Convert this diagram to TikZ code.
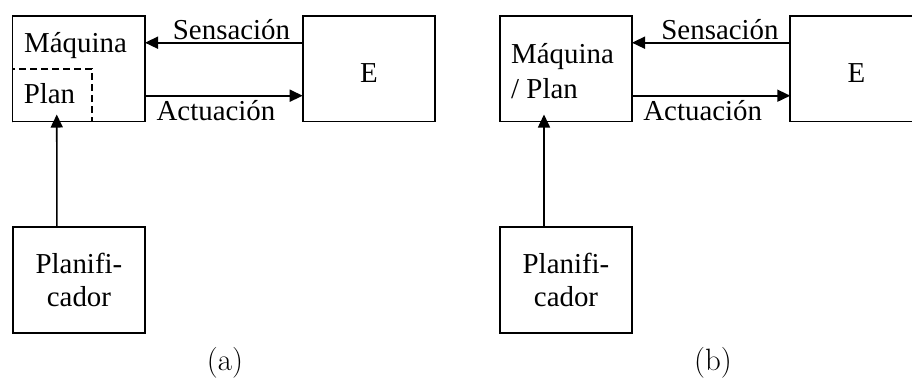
\documentclass[tikz,border=0pt]{standalone}
\usepackage{fontspec}
\newfontfamily\boxfont{Liberation Serif}
\usetikzlibrary{arrows.meta}
\begin{document}
\begin{tikzpicture}[x=1bp,y=-1bp,
  box/.style={draw,line width=1.8bp,rectangle,inner sep=0pt,outer sep=0pt,
    anchor=north west,minimum width=132.5bp,minimum height=105.5bp,
    font=\boxfont\fontsize{29}{34}\selectfont,align=center},
  txt/.style={inner sep=0pt,font=\boxfont\fontsize{29}{35}\selectfont},
  arr/.style={line width=1.6bp,-{Triangle[length=13bp,width=12bp]}},
  sublabel/.style={inner sep=0pt,font=\fontsize{31}{36}\selectfont,anchor=base}]
\useasboundingbox (0,0) rectangle (912,379);

% ---- (a): machine with an embedded plan ----
\node[box] (ma) at (12.5,16) {};
\node[txt,anchor=base] (mat) at (75.5,52.5) {Máquina};
\node[box,dash pattern=on 7bp off 4bp,minimum width=79.5bp,minimum height=52.5bp] (pla) at (12.5,69) {};
\node[txt,anchor=base] (plt) at (49.5,103) {Plan};
\node[box,text height=27bp,text depth=0pt] (ea) at (302.7,16) {E};
\node[box,minimum height=106bp] (pa) at (12.7,227) {Planifi-\\cador};

\draw[arr] ([yshift=-26.7bp]ea.north west) -- ([yshift=-26.7bp]ma.north east);
\draw[arr] ([yshift=-79.7bp]ma.north east) -- ([yshift=-79.7bp]ea.north west);
\draw[arr] ([xshift=-22bp]pa.north) -- ([xshift=-22bp,yshift=7bp]ma.south);
\node[txt,anchor=base] (sa) at (231.5,39.3) {Sensación};
\node[txt,anchor=base] (aa) at (216,120.7) {Actuación};
\node[sublabel] (capa) at (225,370.4) {(a)};

% ---- (b): machine and plan as one block ----
\node[box,minimum width=132bp] (mb) at (500,16) {};
\node[txt,anchor=west,align=left] (mbt) at (511,71) {Máquina\\/ Plan};
\node[box,text height=27bp,text depth=0pt] (eb) at (790.3,16) {E};
\node[box,minimum width=132bp,minimum height=106bp] (pb) at (500,227) {Planifi-\\cador};

\draw[arr] ([yshift=-26.7bp]eb.north west) -- ([yshift=-26.7bp]mb.north east);
\draw[arr] ([yshift=-79.7bp]mb.north east) -- ([yshift=-79.7bp]eb.north west);
\draw[arr] ([xshift=-22bp]pb.north) -- ([xshift=-22bp,yshift=7bp]mb.south);
\node[txt,anchor=base] (sb) at (720,39.3) {Sensación};
\node[txt,anchor=base] (ab) at (702.7,120.7) {Actuación};
\node[sublabel] (capb) at (713,370.4) {(b)};
\end{tikzpicture}
\end{document}
